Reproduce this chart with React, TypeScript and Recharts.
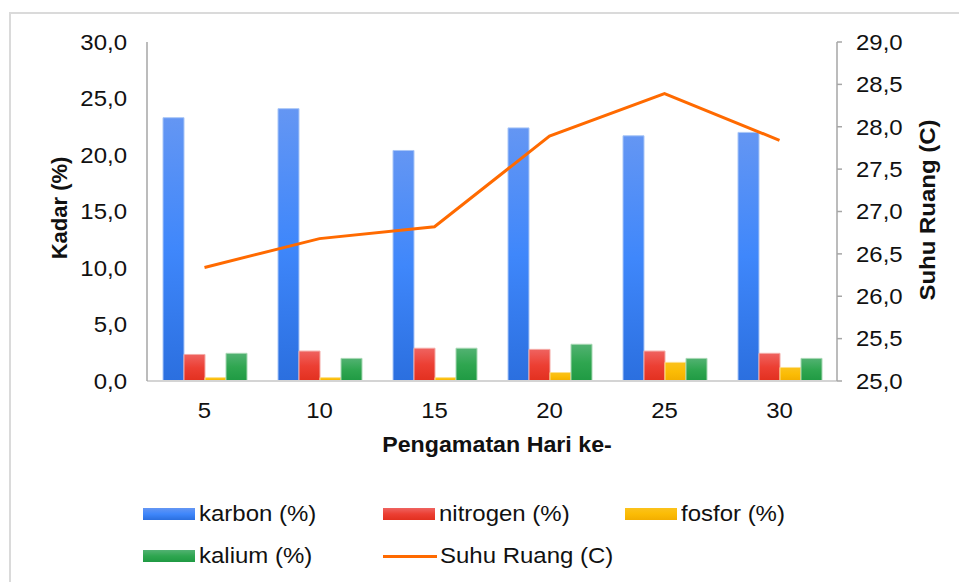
import { Bar, ComposedChart, Line, XAxis, YAxis } from "recharts";

const hari = ["5", "10", "15", "20", "25", "30"];
const karbon = [23.3, 24.1, 20.4, 22.4, 21.7, 22.0];
const nitrogen = [2.35, 2.65, 2.9, 2.8, 2.65, 2.45];
const fosfor = [0.3, 0.3, 0.3, 0.75, 1.65, 1.2];
const kalium = [2.45, 2.0, 2.9, 3.25, 2.0, 2.0];
const suhu = [26.34, 26.68, 26.82, 27.89, 28.39, 27.84];

const kadarTicks = [0, 5, 10, 15, 20, 25, 30];
const suhuTicks = [25, 25.5, 26, 26.5, 27, 27.5, 28, 28.5, 29];

const data = hari.map((h, i) => ({
  hari: h,
  karbon: karbon[i],
  nitrogen: nitrogen[i],
  fosfor: fosfor[i],
  kalium: kalium[i],
  suhu: suhu[i],
}));

const bars = [
  { key: "karbon", name: "karbon (%)", top: "#6496f3", mid: "#3f87fb", bottom: "#2b6fdf", edge: "#a9c6f7" },
  { key: "nitrogen", name: "nitrogen (%)", top: "#ef6360", mid: "#ec3f33", bottom: "#e2301f", edge: "#f4aaa5" },
  { key: "fosfor", name: "fosfor (%)", top: "#fbc21c", mid: "#fbbc05", bottom: "#f2ae00", edge: "#fde08a" },
  { key: "kalium", name: "kalium (%)", top: "#52b272", mid: "#2fa650", bottom: "#1f9a43", edge: "#a7d8b3" },
];
const lineColor = "#ff6a00";

const FONT = '"Liberation Sans", Arial, sans-serif';
const fmt = (v: number) => v.toFixed(1).replace(".", ",");

// the source image is a bit stretched sideways, so widen the tick text
function makeTick(anchor: "start" | "middle" | "end", dy: string, format?: (v: number) => string) {
  return (props: any) => {
    const { x, y, payload } = props;
    const label = format ? format(Number(payload.value)) : String(payload.value);
    return (
      <text
        x={0}
        y={0}
        dy={dy}
        transform={`translate(${x},${y}) scale(1.09,1)`}
        textAnchor={anchor}
        fill="#111"
        fontSize={22}
        fontFamily={FONT}
      >
        {label}
      </text>
    );
  };
}

const legendRows = [
  [
    { ...bars[0], x: 143 },
    { ...bars[1], x: 383 },
    { ...bars[2], x: 625 },
  ],
  [
    { ...bars[3], x: 143 },
    { key: "suhu", name: "Suhu Ruang (C)", x: 383 },
  ],
];
const legendY = [514, 556];

const titleStyle = {
  position: "absolute" as const,
  fontSize: 22,
  fontWeight: "bold" as const,
  whiteSpace: "nowrap" as const,
  color: "#111",
};

export default function App() {
  return (
    <div
      style={{
        position: "absolute",
        left: 0,
        top: 0,
        width: 959,
        height: 582,
        overflow: "hidden",
        background: "#fff",
        fontFamily: FONT,
      }}
    >
      <div
        style={{
          position: "absolute",
          left: 9,
          top: 12,
          width: 1000,
          height: 700,
          border: "2px solid #dadada",
        }}
      />
      <div style={{ position: "absolute", left: 0, top: 0 }}>
        <ComposedChart
          width={959}
          height={582}
          data={data}
          margin={{ top: 42, left: 87, right: 62, bottom: 171 }}
          barCategoryGap={16}
          barGap={0}
        >
          <defs>
            {bars.map((b) => (
              <linearGradient key={b.key} id={`g-${b.key}`} x1="0" y1="0" x2="0" y2="1">
                <stop offset="0%" stopColor={b.top} />
                <stop offset="50%" stopColor={b.mid} />
                <stop offset="100%" stopColor={b.bottom} />
              </linearGradient>
            ))}
          </defs>
          <XAxis
            dataKey="hari"
            height={30}
            axisLine={{ stroke: "#d4d4d4", strokeWidth: 2 }}
            tickLine={false}
            tickMargin={15}
            tick={makeTick("middle", "0.71em")}
          />
          <YAxis
            yAxisId="left"
            width={60}
            domain={[0, 30]}
            ticks={kadarTicks}
            axisLine={{ stroke: "#a6a6a6", strokeWidth: 1.5 }}
            tickLine={false}
            tickMargin={14}
            tick={makeTick("end", "0.355em", fmt)}
          />
          <YAxis
            yAxisId="right"
            orientation="right"
            width={60}
            domain={[25, 29]}
            ticks={suhuTicks}
            axisLine={{ stroke: "#a6a6a6", strokeWidth: 1.5 }}
            tickLine={{ stroke: "#a6a6a6", strokeWidth: 1.5 }}
            tickSize={5}
            tickMargin={14}
            tick={makeTick("start", "0.355em", fmt)}
          />
          {bars.map((b) => (
            <Bar
              key={b.key}
              yAxisId="left"
              dataKey={b.key}
              name={b.name}
              fill={`url(#g-${b.key})`}
              stroke={b.edge}
              strokeWidth={1}
              isAnimationActive={false}
            />
          ))}
          <Line
            yAxisId="right"
            type="linear"
            dataKey="suhu"
            name="Suhu Ruang (C)"
            stroke={lineColor}
            strokeWidth={3}
            dot={false}
            activeDot={false}
            isAnimationActive={false}
          />
        </ComposedChart>
      </div>

      <div
        style={{
          ...titleStyle,
          left: 60,
          top: 208,
          transform: "translate(-50%, -50%) rotate(-90deg)",
        }}
      >
        Kadar (%)
      </div>
      <div
        style={{
          ...titleStyle,
          left: 928,
          top: 210,
          transform: "translate(-50%, -50%) rotate(-90deg) scaleX(1.09)",
        }}
      >
        Suhu Ruang (C)
      </div>
      <div
        style={{
          ...titleStyle,
          left: 497,
          top: 445,
          transform: "translate(-50%, -50%) scaleX(1.055)",
        }}
      >
        Pengamatan Hari ke-
      </div>

      {legendRows.map((row, r) =>
        row.map((item: any) => (
          <div
            key={item.key}
            style={{
              position: "absolute",
              left: item.x,
              top: legendY[r],
              transform: "translateY(-50%)",
              display: "flex",
              alignItems: "center",
              fontSize: 22,
              color: "#111",
              whiteSpace: "nowrap",
            }}
          >
            {item.top ? (
              <div
                style={{
                  width: 52,
                  height: 12,
                  background: `linear-gradient(${item.top}, ${item.mid}, ${item.bottom})`,
                  marginRight: 4,
                }}
              />
            ) : (
              <div style={{ width: 54, height: 3, background: lineColor, marginRight: 3 }} />
            )}
            <span style={{ display: "inline-block", transform: "scaleX(1.09)", transformOrigin: "left center" }}>
              {item.name}
            </span>
          </div>
        ))
      )}
    </div>
  );
}
